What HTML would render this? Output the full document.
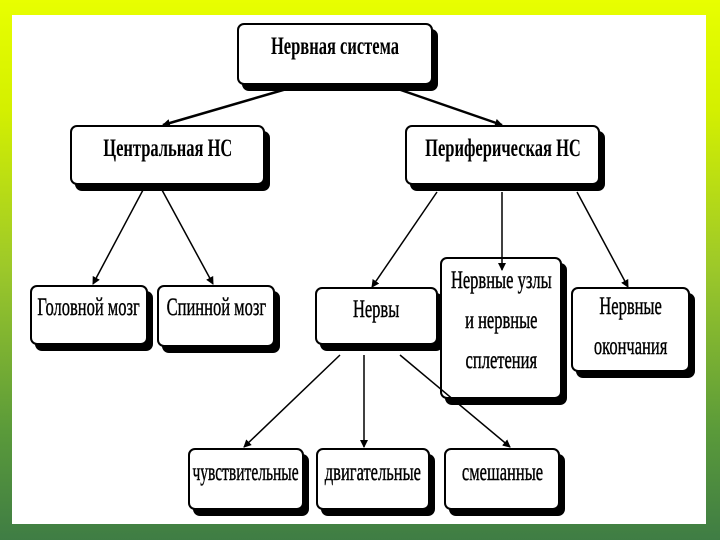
<!DOCTYPE html><html><head><meta charset="utf-8"><style>
html,body{margin:0;padding:0}
body{width:720px;height:540px;position:relative;overflow:hidden;background:linear-gradient(180deg,#e8ff00 0%,#d4f000 20%,#9cc82a 50%,#5a9a3a 80%,#3f7d44 100%)}
.panel{position:absolute;left:12px;top:15px;width:694px;height:509px;background:#fff}
.b{position:absolute;background:#fff;border:2px solid #000;border-radius:7px;box-shadow:5px 6px 0 #000;display:flex;align-items:center;justify-content:center;text-align:center;font-family:"Liberation Serif",serif;font-size:25px;line-height:40px;color:#000;box-sizing:border-box;padding-bottom:8px}
.b span{display:inline-block;transform:scaleX(.66);white-space:nowrap;-webkit-text-stroke:0.4px #000}
.bold span{font-weight:bold;-webkit-text-stroke:0}
svg{position:absolute;left:0;top:0}
</style></head><body>
<div class="panel"></div>
<div class="b bold" style="left:237px;top:23px;width:196px;height:62px;padding-bottom:14px"><span>Нервная система</span></div>
<div class="b bold" style="left:70px;top:125px;width:195px;height:60px;padding-bottom:12px"><span>Центральная НС</span></div>
<div class="b bold" style="left:405px;top:125px;width:195px;height:60px;padding-bottom:12px"><span>Периферическая НС</span></div>
<div class="b" style="left:30px;top:285px;width:118px;height:60px;padding-bottom:14px"><span>Головной мозг</span></div>
<div class="b" style="left:157px;top:285px;width:118px;height:62px;padding-bottom:16px"><span>Спинной мозг</span></div>
<div class="b" style="left:315px;top:287px;width:123px;height:58px;padding-bottom:12px"><span>Нервы</span></div>
<div class="b" style="left:440px;top:257px;width:122px;height:142px;padding-bottom:14px"><span>Нервные узлы<br>и нервные<br>сплетения</span></div>
<div class="b" style="left:571px;top:287px;width:119px;height:85px;padding-bottom:6px"><span>Нервные<br>окончания</span></div>
<div class="b" style="left:188px;top:448px;width:116px;height:62px;padding-bottom:12px"><span style="transform:scaleX(.62)">чувствительные</span></div>
<div class="b" style="left:316px;top:448px;width:114px;height:62px;padding-bottom:12px"><span>двигательные</span></div>
<div class="b" style="left:444px;top:448px;width:116px;height:62px;padding-bottom:12px"><span>смешанные</span></div>
<svg width="720" height="540"><defs><marker id="a" markerWidth="8" markerHeight="8" refX="7" refY="4" orient="auto" markerUnits="userSpaceOnUse"><path d="M0,0L8,4L0,8z"/></marker></defs>
<g stroke="#000" stroke-width="2.5" marker-end="url(#a)">
<line x1="290" y1="88" x2="163" y2="125"/><line x1="395" y1="88" x2="502" y2="125"/>
</g><g stroke="#000" stroke-width="1.5" marker-end="url(#a)">
<line x1="143" y1="190" x2="93" y2="284"/><line x1="162" y1="190" x2="213" y2="284"/>
<line x1="437" y1="192" x2="372" y2="287"/><line x1="502" y1="192" x2="502" y2="270"/><line x1="577" y1="192" x2="628" y2="287"/>
<line x1="340" y1="355" x2="244" y2="447"/><line x1="364" y1="355" x2="364" y2="447"/><line x1="400" y1="355" x2="510" y2="447"/>
</g></svg>
</body></html>
